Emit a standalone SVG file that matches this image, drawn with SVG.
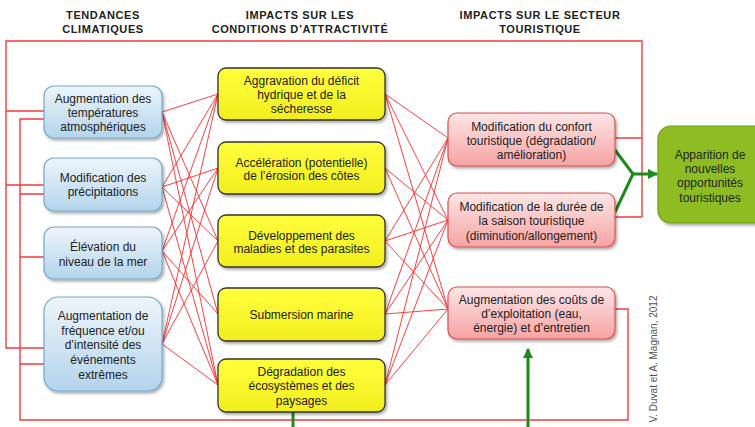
<svg xmlns="http://www.w3.org/2000/svg" width="755" height="427" viewBox="0 0 755 427">
  <defs>
    <linearGradient id="gBlue" x1="0" y1="0" x2="0" y2="1">
      <stop offset="0" stop-color="#eef5fb"/>
      <stop offset="1" stop-color="#b3d4ec"/>
    </linearGradient>
    <linearGradient id="gYellow" x1="0" y1="0" x2="0" y2="1">
      <stop offset="0" stop-color="#ffff3c"/>
      <stop offset="1" stop-color="#f2ee1e"/>
    </linearGradient>
    <linearGradient id="gPink" x1="0" y1="0" x2="0" y2="1">
      <stop offset="0" stop-color="#fde6e6"/>
      <stop offset="1" stop-color="#f6a3a3"/>
    </linearGradient>
    <filter id="shadow" x="-10%" y="-10%" width="125%" height="130%">
      <feDropShadow dx="1.5" dy="2" stdDeviation="1.5" flood-color="#000" flood-opacity="0.35"/>
    </filter>
    <marker id="arrowGreen" viewBox="0 0 10 10" refX="9" refY="5" markerWidth="10" markerHeight="10" markerUnits="userSpaceOnUse" orient="auto">
      <path d="M0,0 L10,5 L0,10 Z" fill="#1b8c1b"/>
    </marker>
  </defs>
  <style>
    .hdr { font-family: "Liberation Sans", Arial, sans-serif; font-weight: bold; font-size: 11px; letter-spacing: 0.6px; fill: #222; text-anchor: middle; }
    .lbl { font-family: "Liberation Sans", Arial, sans-serif; font-size: 12px; fill: #222; text-anchor: middle; }
    .blue { fill: url(#gBlue); stroke: #74a9cc; stroke-width: 1.2; filter: url(#shadow); }
    .yellow { fill: url(#gYellow); stroke: #333; stroke-width: 1.3; filter: url(#shadow); }
    .pink { fill: url(#gPink); stroke: #d85050; stroke-width: 1.2; filter: url(#shadow); }
    .green { fill: #8dbd22; stroke: #6e9d16; stroke-width: 1.2; filter: url(#shadow); }
    .link { stroke: #ff2a2a; stroke-width: 0.9; fill: none; }
    .loop { stroke: #f43c3c; stroke-width: 1.4; fill: none; }
    .gline { stroke: #1b8c1b; stroke-width: 3; fill: none; }
    .credit { font-family: "Liberation Sans", Arial, sans-serif; font-size: 10px; fill: #555; text-anchor: middle; }
  </style>

  <rect width="755" height="427" fill="#fff"/>

  <!-- column headers -->
  <g id="headers">
    <text class="hdr" x="103" y="19">TENDANCES</text>
    <text class="hdr" x="103" y="33">CLIMATIQUES</text>
    <text class="hdr" x="300" y="19">IMPACTS SUR LES</text>
    <text class="hdr" x="300" y="33">CONDITIONS D’ATTRACTIVITÉ</text>
    <text class="hdr" x="540" y="19">IMPACTS SUR LE SECTEUR</text>
    <text class="hdr" x="540" y="33">TOURISTIQUE</text>
  </g>

  <!-- connectors -->
  <g id="connectors">
    <!-- feedback loops -->
    <path class="loop" d="M615,138 H642 M615,217 H642 M642,217 V41 H6 V348 H44 M6,111 H44 M6,185 H44"/>
    <path class="loop" d="M615,309 H628 V420 H20 V119 H44 M20,194 H44 M20,257 H44 M20,364 H44"/>

    <!-- climate trends to attractiveness impacts -->
    <path class="link" d="M162,112 L218,94 M162,112 L218,241 M162,112 L218,314 M162,112 L218,385"/>
    <path class="link" d="M162,187 L218,94 M162,187 L218,168 M162,187 L218,241 M162,187 L218,385"/>
    <path class="link" d="M162,251 L218,94 M162,251 L218,168 M162,251 L218,314 M162,251 L218,385"/>
    <path class="link" d="M162,344 L218,94 M162,344 L218,168 M162,344 L218,241 M162,344 L218,385"/>

    <!-- attractiveness impacts to tourism sector impacts -->
    <path class="link" d="M385,94 L448,138 M385,94 L448,220 M385,94 L448,309"/>
    <path class="link" d="M385,168 L448,220 M385,168 L448,309"/>
    <path class="link" d="M385,241 L448,138 M385,241 L448,220 M385,241 L448,309"/>
    <path class="link" d="M385,314 L448,138 M385,314 L448,220 M385,314 L448,309"/>
    <path class="link" d="M385,385 L448,138 M385,385 L448,220 M385,385 L448,309"/>

    <!-- new opportunities -->
    <path class="gline" d="M615,150 L633,174 L615,212"/>
    <path class="gline" d="M633,174 H657" marker-end="url(#arrowGreen)"/>
    <path class="gline" d="M293,412 V430"/>
    <path class="gline" d="M528,430 V349" marker-end="url(#arrowGreen)"/>
  </g>

  <!-- climate trends -->
  <g id="trend-temperature">
    <rect class="blue" x="44" y="86" width="118" height="52" rx="10"/>
    <text class="lbl" x="103" y="103">Augmentation des</text>
    <text class="lbl" x="103" y="117">températures</text>
    <text class="lbl" x="103" y="131">atmosphériques</text>
  </g>
  <g id="trend-rainfall">
    <rect class="blue" x="44" y="158" width="118" height="53" rx="10"/>
    <text class="lbl" x="103" y="182">Modification des</text>
    <text class="lbl" x="103" y="196">précipitations</text>
  </g>
  <g id="trend-sealevel">
    <rect class="blue" x="44" y="227" width="118" height="52" rx="10"/>
    <text class="lbl" x="103" y="251">Élévation du</text>
    <text class="lbl" x="103" y="266">niveau de la mer</text>
  </g>
  <g id="trend-extremes">
    <rect class="blue" x="44" y="297" width="118" height="94" rx="14"/>
    <text class="lbl" x="103" y="320">Augmentation de</text>
    <text class="lbl" x="103" y="335">fréquence et/ou</text>
    <text class="lbl" x="103" y="349">d’intensité des</text>
    <text class="lbl" x="103" y="364">événements</text>
    <text class="lbl" x="103" y="379">extrêmes</text>
  </g>

  <!-- attractiveness impacts -->
  <g id="impact-drought">
    <rect class="yellow" x="218" y="68" width="167" height="52" rx="8"/>
    <text class="lbl" x="301.5" y="85">Aggravation du déficit</text>
    <text class="lbl" x="301.5" y="99">hydrique et de la</text>
    <text class="lbl" x="301.5" y="113">sécheresse</text>
  </g>
  <g id="impact-erosion">
    <rect class="yellow" x="218" y="142" width="167" height="52" rx="8"/>
    <text class="lbl" x="301.5" y="167">Accélération (potentielle)</text>
    <text class="lbl" x="301.5" y="180">de l’érosion des côtes</text>
  </g>
  <g id="impact-disease">
    <rect class="yellow" x="218" y="215" width="167" height="52" rx="8"/>
    <text class="lbl" x="301.5" y="240">Développement des</text>
    <text class="lbl" x="301.5" y="253">maladies et des parasites</text>
  </g>
  <g id="impact-submersion">
    <rect class="yellow" x="218" y="288" width="167" height="53" rx="8"/>
    <text class="lbl" x="301.5" y="319">Submersion marine</text>
  </g>
  <g id="impact-ecosystems">
    <rect class="yellow" x="218" y="359" width="167" height="53" rx="8"/>
    <text class="lbl" x="301.5" y="376">Dégradation des</text>
    <text class="lbl" x="301.5" y="390">écosystèmes et des</text>
    <text class="lbl" x="301.5" y="405">paysages</text>
  </g>

  <!-- tourism sector impacts -->
  <g id="sector-comfort">
    <rect class="pink" x="448" y="113" width="167" height="53" rx="9"/>
    <text class="lbl" x="531.5" y="131">Modification du confort</text>
    <text class="lbl" x="531.5" y="145">touristique (dégradation/</text>
    <text class="lbl" x="531.5" y="159">amélioration)</text>
  </g>
  <g id="sector-season">
    <rect class="pink" x="448" y="193" width="167" height="54" rx="9"/>
    <text class="lbl" x="531.5" y="211">Modification de la durée de</text>
    <text class="lbl" x="531.5" y="225">la saison touristique</text>
    <text class="lbl" x="531.5" y="240">(diminution/allongement)</text>
  </g>
  <g id="sector-costs">
    <rect class="pink" x="448" y="287" width="167" height="52" rx="9"/>
    <text class="lbl" x="531.5" y="304">Augmentation des coûts de</text>
    <text class="lbl" x="531.5" y="318">d’exploitation (eau,</text>
    <text class="lbl" x="531.5" y="332">énergie) et d’entretien</text>
  </g>

  <!-- opportunities -->
  <g id="opportunities">
    <rect class="green" x="658" y="126" width="110" height="97" rx="13"/>
    <text class="lbl" x="710" y="159">Apparition de</text>
    <text class="lbl" x="710" y="173">nouvelles</text>
    <text class="lbl" x="710" y="187">opportunités</text>
    <text class="lbl" x="710" y="202">touristiques</text>
  </g>

  <!-- credit -->
  <text class="credit" transform="translate(657,359) rotate(-90)">V. Duvat et A. Magnan, 2012</text>
</svg>
